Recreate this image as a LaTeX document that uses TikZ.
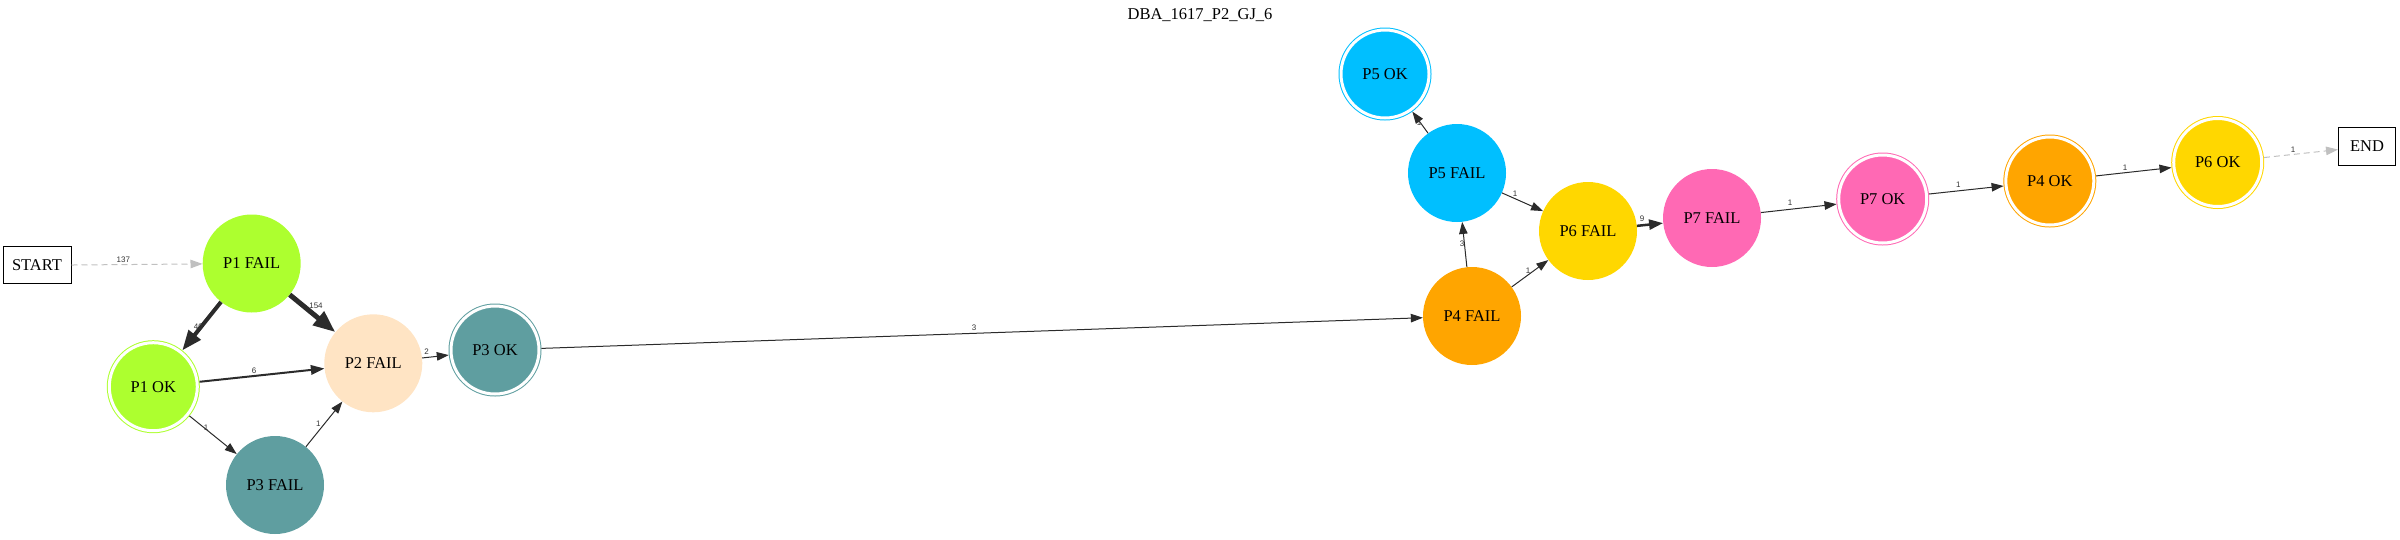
\documentclass[tikz,border=0pt]{standalone}
\usepackage{fontspec}
\setmainfont{Liberation Serif}
\newfontfamily\lblfont{Liberation Sans}
\usetikzlibrary{arrows.meta,shapes.geometric}
\definecolor{cP1}{HTML}{ADFF2F}
\definecolor{cP2}{HTML}{FFE4C4}
\definecolor{cP3}{HTML}{5F9EA0}
\definecolor{cP4}{HTML}{FFA500}
\definecolor{cP5}{HTML}{00BFFF}
\definecolor{cP6}{HTML}{FFD700}
\definecolor{cP7}{HTML}{FF69B4}
\definecolor{edgec}{HTML}{2B2B2B}
\definecolor{ghost}{HTML}{C0C0C0}
\begin{document}
\begin{tikzpicture}[x=1pt,y=-1pt,
  nfont/.style={font=\fontsize{16.5}{18}\selectfont},
  st/.style={circle,inner sep=0pt,minimum size=98pt,nfont},
  ok/.style={circle,inner sep=0pt,minimum size=88pt,line width=1pt,double=white,double distance=3pt,outer sep=2.5pt,nfont},
  termbox/.style={rectangle,draw=black,line width=1pt,inner sep=0pt,nfont},
  e/.style={draw=edgec,line width=1pt,-{Triangle[length=12pt,width=8.5pt]}},
  ghostedge/.style={draw=ghost,line width=1pt,dash pattern=on 6pt off 4pt,-{Triangle[length=12pt,width=8.5pt]}},
  lbl/.style={font=\lblfont\fontsize{8}{9}\selectfont,text=black!80,inner sep=0pt}
]
\useasboundingbox (0,0) rectangle (2400,539);
\node[nfont] (title) at (1200,15) {DBA\_1617\_P2\_GJ\_6};

\node[termbox,minimum width=68pt,minimum height=37pt] (start) at (37,265.3) {START};
\node[termbox,minimum width=57pt,minimum height=38pt] (end) at (2367,146.5) {END};

\node[st,fill=cP1] (p1f) at (251.7,263.5) {P1 FAIL};
\node[ok,fill=cP1,draw=cP1] (p1ok) at (153.3,386.7) {P1 OK};
\node[st,fill=cP2] (p2f) at (373.3,363.3) {P2 FAIL};
\node[ok,fill=cP3,draw=cP3] (p3ok) at (495,350) {P3 OK};
\node[st,fill=cP3] (p3f) at (275,485) {P3 FAIL};
\node[st,fill=cP4] (p4f) at (1472,316) {P4 FAIL};
\node[st,fill=cP5] (p5f) at (1457,173) {P5 FAIL};
\node[ok,fill=cP5,draw=cP5] (p5ok) at (1385,74) {P5 OK};
\node[st,fill=cP6] (p6f) at (1588,231) {P6 FAIL};
\node[st,fill=cP7] (p7f) at (1712,218) {P7 FAIL};
\node[ok,fill=cP7,draw=cP7] (p7ok) at (1882.7,199) {P7 OK};
\node[ok,fill=cP4,draw=cP4] (p4ok) at (2049.8,181) {P4 OK};
\node[ok,fill=cP6,draw=cP6] (p6ok) at (2217.7,162.5) {P6 OK};

\draw[ghostedge] (start) -- (p1f) node[lbl,at={(123.3,260)}] {137};
\draw[e,line width=4pt,-{Triangle[length=20pt,width=15pt]}] (p1f) -- (p1ok) node[lbl,at={(198.3,326.7)}] {40};
\draw[e,line width=5pt,-{Triangle[length=22pt,width=17pt]}] (p1f) -- (p2f) node[lbl,at={(316,305.7)}] {154};
\draw[e,line width=2pt,-{Triangle[length=13.5pt,width=9.5pt]}] (p1ok) -- (p2f) node[lbl,at={(254,371)}] {6};
\draw[e] (p1ok) -- (p3f) node[lbl,at={(206,427.3)}] {1};
\draw[e] (p3f) -- (p2f) node[lbl,at={(318.3,423.3)}] {1};
\draw[e] (p2f) -- (p3ok) node[lbl,at={(426.7,351.7)}] {2};
\draw[e] (p3ok) -- (p4f) node[lbl,at={(974,328)}] {3};
\draw[e] (p4f) -- (p5f) node[lbl,at={(1462,244)}] {3};
\draw[e] (p4f) -- (p6f) node[lbl,at={(1528,271)}] {1};
\draw[e] (p5f) -- (p5ok) node[lbl,at={(1419,123)}] {1};
\draw[e] (p5f) -- (p6f) node[lbl,at={(1515,194)}] {1};
\draw[e,line width=2.5pt,-{Triangle[length=14pt,width=10pt]}] (p6f) -- (p7f) node[lbl,at={(1642,219)}] {9};
\draw[e] (p7f) -- (p7ok) node[lbl,at={(1790,202.5)}] {1};
\draw[e] (p7ok) -- (p4ok) node[lbl,at={(1958.2,185)}] {1};
\draw[e] (p4ok) -- (p6ok) node[lbl,at={(2125,167.3)}] {1};
\draw[ghostedge] (p6ok) -- (end) node[lbl,at={(2293,149.3)}] {1};
\end{tikzpicture}
\end{document}
